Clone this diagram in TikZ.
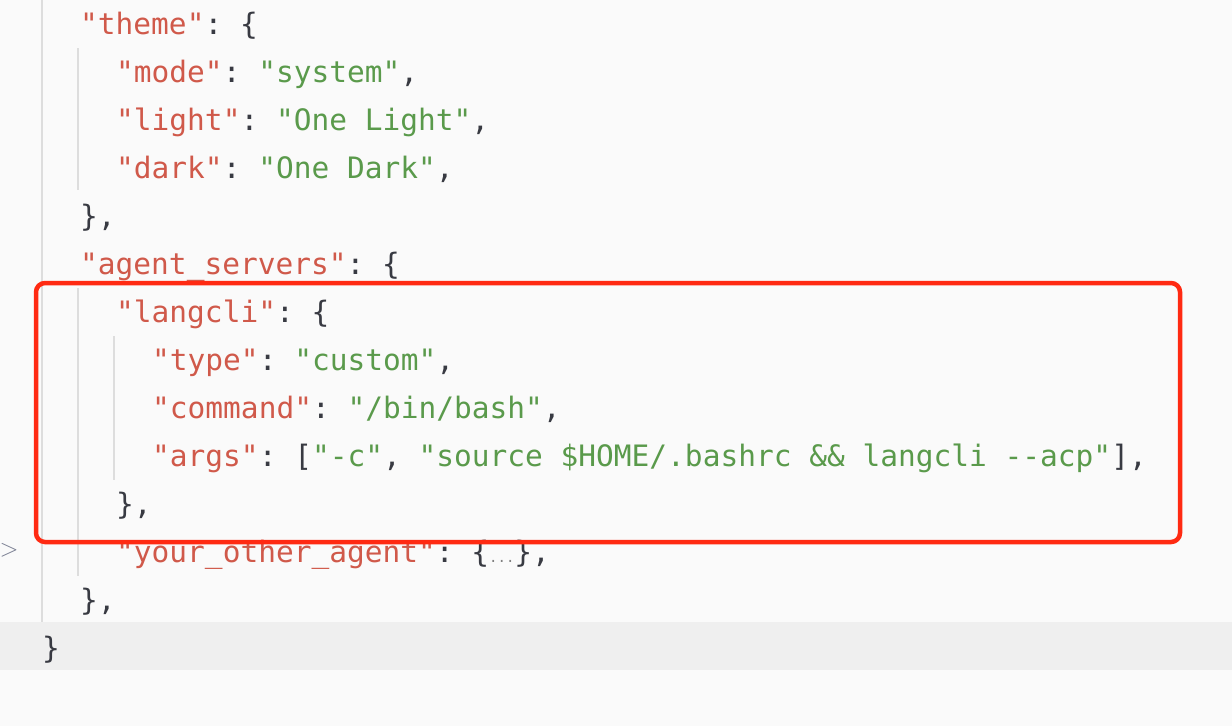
\documentclass[tikz,border=0pt]{standalone}
\usepackage{fontspec}
\setmonofont{DejaVu Sans Mono}
\usetikzlibrary{positioning}
\definecolor{keyred}{HTML}{D0594A}
\definecolor{strgreen}{HTML}{5A9A4B}
\definecolor{punct}{HTML}{383A42}
\definecolor{guide}{HTML}{DDDDDD}
\definecolor{boxred}{HTML}{FF2A12}
\newcommand{\K}[1]{\textcolor{keyred}{"#1"}}
\newcommand{\V}[1]{\textcolor{strgreen}{"#1"}}

\begin{document}
\begin{tikzpicture}[
    x=1pt, y=-1pt,
    code/.style={anchor=base west, inner sep=0pt, font=\ttfamily\fontsize{29.5}{30}\selectfont, text=punct},
    guideline/.style={draw=guide, line width=1.2pt}
]

% Editor background
\fill[fill={rgb,255:red,250;green,250;blue,250}] (0,0) rectangle (1232,726);
\fill[fill={rgb,255:red,239;green,239;blue,239}] (0,622) rectangle (1232,670);
\useasboundingbox (0,0) rectangle (1232,726);

% Indent guides
\draw[guideline] (42,0) -- (42,622);
\draw[guideline] (78,48) -- (78,190);
\draw[guideline] (78,288) -- (78,576);
\draw[guideline] (114,336) -- (114,480);

% Code lines
\node[code] (theme) at (80,34) {\K{theme}: \{};
\node[code] (mode) at (116,82) {\K{mode}: \V{system},};
\node[code] (light) at (116,130) {\K{light}: \V{One Light},};
\node[code] (dark) at (116,178) {\K{dark}: \V{One Dark},};
\node[code] (themeend) at (80,226) {\},};
\node[code] (agents) at (80,274) {\K{agent\_servers}: \{};
\node[code] (langcli) at (116,322) {\K{langcli}: \{};
\node[code] (type) at (152,370) {\K{type}: \V{custom},};
\node[code] (command) at (152,418) {\K{command}: \V{/bin/bash},};
\node[code] (args) at (152,466) {\K{args}: [\V{-c}, \V{source \$HOME/.bashrc \&\& langcli --acp}],};
\node[code] (langcliend) at (116,514) {\},};
\node[code] (other) at (116,562) {\K{your\_other\_agent}: \{\textcolor{gray}{\fontsize{14}{14}\selectfont ...}\},};
\node[code] (agentsend) at (80,610) {\},};
\node[code] (rootend) at (42,658) {\}};

% Fold marker
\node[anchor=center, inner sep=0pt, text={rgb,255:red,120;green,125;blue,145}, font=\fontsize{24}{24}\selectfont] (fold) at (9,550) {$>$};

% Highlight box
\draw[boxred, line width=4.5pt, rounded corners=9pt] (36,283) rectangle (1180,542);

\end{tikzpicture}
\end{document}
